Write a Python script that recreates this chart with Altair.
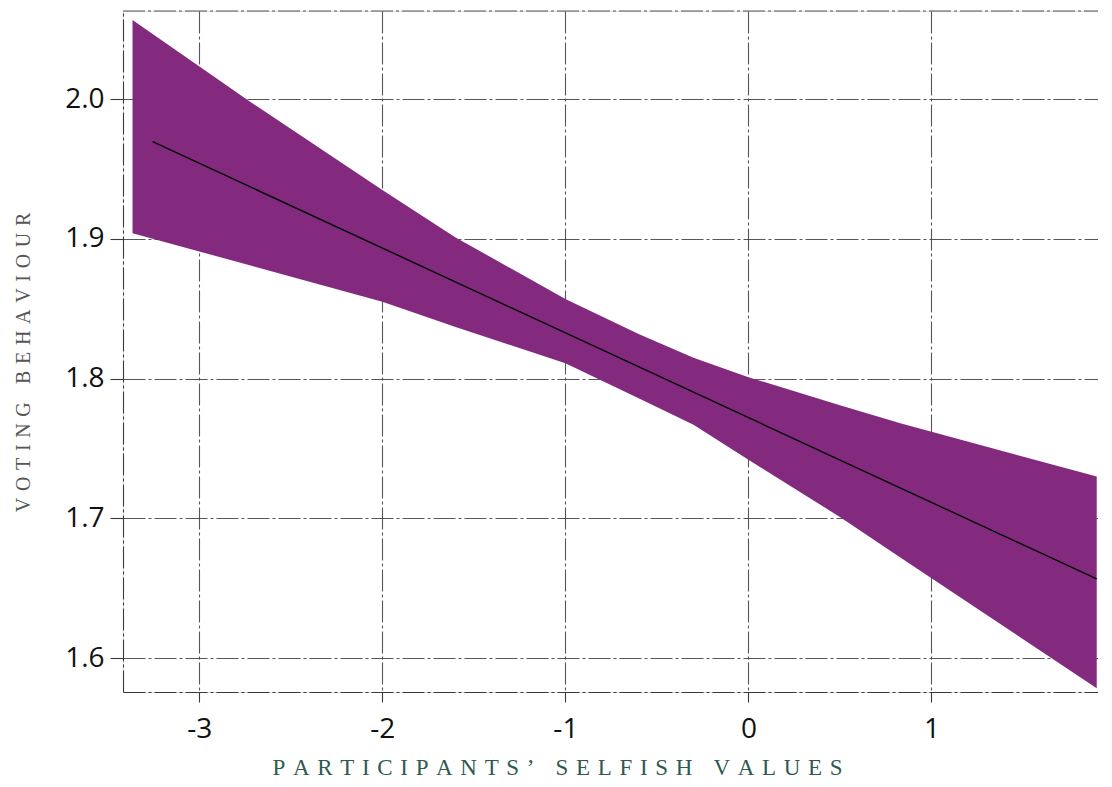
import altair as alt
import pandas as pd

# Confidence band
band_x = [-3.365, -2.75, -2.0, -1.6, -1.0, -0.6, -0.3, 0.0, 0.5, 0.83, 1.903]
band_upper = [2.0565, 2.0005, 1.935, 1.901, 1.857, 1.832, 1.815, 1.801, 1.781, 1.768, 1.730]
band_lower = [1.904, 1.882, 1.855, 1.837, 1.811, 1.786, 1.767, 1.742, 1.701, 1.672, 1.5785]

# Fitted line
line_x = [-3.255, 1.903]
line_y = [1.9695, 1.6567]

x_ticks = [-3, -2, -1, 0, 1]
y_ticks = [1.6, 1.7, 1.8, 1.9, 2.0]
x_domain = [-3.417, 1.910]
y_domain = [1.5758, 2.063]

x_title = "PARTICIPANTS\u2019 SELFISH VALUES"
y_title = "VOTING BEHAVIOUR"


def spaced(s, sep="\u2004"):
    return sep.join(list(s))


W, H = 975, 681
PURPLE = "#832A7E"
GRID = "#3a3a3a"
DASH = [22, 3, 3, 3]

band_df = pd.DataFrame({"x": band_x, "upper": band_upper, "lower": band_lower})
line_df = pd.DataFrame({"x": line_x, "y": line_y})

xscale = alt.Scale(domain=x_domain, nice=False, zero=False)
yscale = alt.Scale(domain=y_domain, nice=False, zero=False)

xaxis = alt.Axis(
    values=x_ticks, title=spaced(x_title),
    labelExpr="'' + datum.value",
    grid=True, gridColor=GRID, gridDash=DASH, gridWidth=1.1, gridOpacity=0.85,
    domain=True, domainColor=GRID, domainDash=DASH, domainWidth=1.1,
    ticks=True, tickColor=GRID, tickDash=DASH, tickSize=10, tickWidth=1.1,
    labelFont="Open Sans", labelFontSize=28, labelColor="#111111", labelPadding=13,
    titleFont="Liberation Serif", titleFontSize=23, titleFontWeight="normal",
    titleColor="#2f5a50", titleX=434, titleY=75, titleBaseline="middle",
    titleAlign="center",
)
yaxis = alt.Axis(
    values=y_ticks, format=".1f", title=spaced(y_title),
    grid=True, gridColor=GRID, gridDash=DASH, gridWidth=1.1, gridOpacity=0.85,
    domain=True, domainColor=GRID, domainDash=DASH, domainWidth=1.1,
    ticks=True, tickColor=GRID, tickDash=DASH, tickSize=13, tickWidth=1.1,
    labelFont="Open Sans", labelFontSize=28, labelColor="#111111", labelPadding=6,
    titleFont="Liberation Serif", titleFontSize=20, titleFontWeight="normal",
    titleColor="#555555", titleX=-100, titleY=351, titleBaseline="middle",
    titleAlign="center", titleAngle=-90,
)

band = alt.Chart(band_df).mark_area(color=PURPLE, opacity=1).encode(
    x=alt.X("x:Q", scale=xscale, axis=xaxis),
    y=alt.Y("upper:Q", scale=yscale, axis=yaxis),
    y2="lower:Q",
)

line = alt.Chart(line_df).mark_line(color="#000000", strokeWidth=1.4).encode(
    x=alt.X("x:Q", scale=xscale),
    y=alt.Y("y:Q", scale=yscale),
)

top_rule = alt.Chart(pd.DataFrame({"a": [0]})).mark_rule(
    color=GRID, strokeDash=DASH, strokeWidth=1.1, opacity=0.85
).encode(x=alt.value(0), x2=alt.value(W), y=alt.value(0))

chart = alt.layer(band, line, top_rule).properties(
    width=W, height=H,
    autosize=alt.AutoSizeParams(type="none"),
    padding={"left": 115, "top": 3, "right": 0, "bottom": 87},
).configure_view(stroke=None).configure(background="white")

chart.save("out.html", embed_options={"renderer": "svg", "actions": False})
